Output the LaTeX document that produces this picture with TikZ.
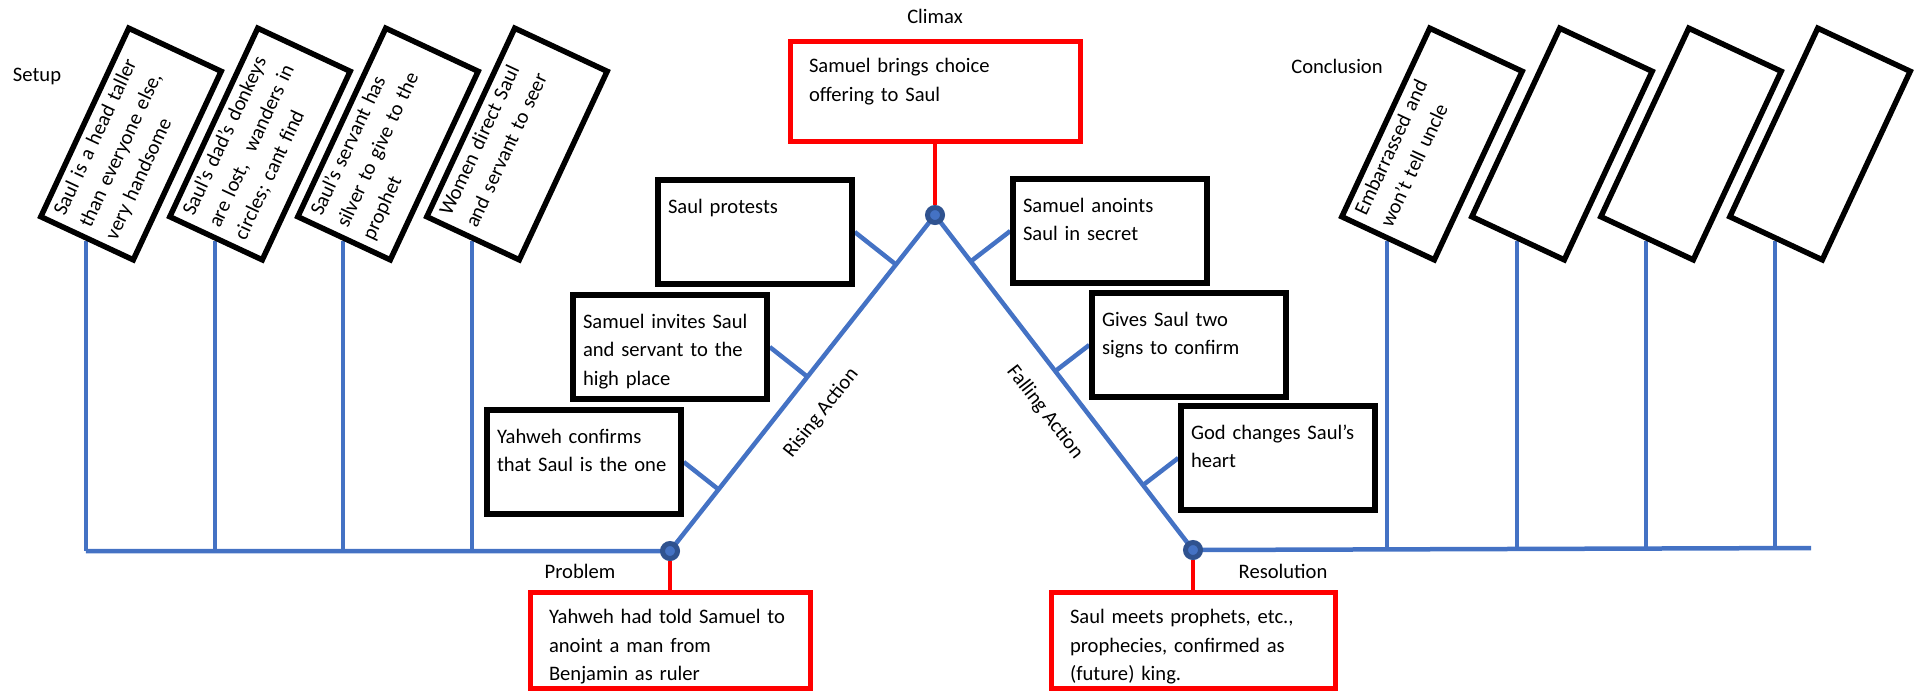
\documentclass[tikz,border=0pt]{standalone}
\usepackage{fontspec}
\setmainfont{Carlito}
\usetikzlibrary{calc, backgrounds, positioning}
\definecolor{spineblue}{HTML}{4472C4}
\definecolor{dotblue}{HTML}{2F528F}
\tikzset{
    spine/.style = {spineblue, line width=2.25pt},
    redline/.style = {red, line width=2.25pt},
    setupnode/.style = {draw, line width=2.75pt, fill=white, rotate=65, align=left, 
      text width=94pt, inner xsep=5pt, inner ysep=3pt, text height=8pt, text depth=37pt},
    fishnode/.style = {draw, line width=2.75pt, fill=white, align=left, 
      text width=87pt, inner xsep=5pt, inner ysep=8.5pt, text height=8pt, text depth=27pt},
    rednode/.style = {draw=red, line width=2.5pt, fill=white, align=left, 
      text width=121pt, inner xsep=9.5pt, inner ysep=7.75pt, text height=8pt, text depth=24.5pt},
    dotnode/.style = {circle, fill=spineblue, draw=dotblue, line width=2.5pt, 
      minimum size=7.5pt, inner sep=0pt},
    textnode/.style = {draw=none, fill=none, inner sep=0pt}
}
\begin{document}
\begin{tikzpicture}[x=0.5pt, y=-0.5pt, font=\fontsize{10.3pt}{14.25pt}\selectfont]
    \useasboundingbox (0,0) rectangle (1925,698);

    % plot points
    \coordinate (prob) at (670,551);
    \coordinate (apex) at (935,215);
    \coordinate (reso) at (1193,550);
    \coordinate (tail) at (1811,548);

    % setup and conclusion
    \node [name = setup, textnode] at (37,76) {Setup};
    \node [name = su1, setupnode] at (131,144) {Saul is a head taller\\than everyone else,\\very handsome};
    \node [name = su2, setupnode] at (260,144) {Saul’s dad’s donkeys\\are lost,~ wanders in\\circles; cant find};
    \node [name = su3, setupnode] at (388,144) {Saul’s servant has\\silver to give to the\\prophet};
    \node [name = su4, setupnode] at (517,144) {Women direct Saul\\and servant to seer};

    \node [name = concl, textnode] at (1337,66) {Conclusion};
    \node [name = cc1, setupnode] at (1432,144) {Embarrassed and\\won’t tell uncle};
    \node [name = cc2, setupnode] at (1562,144) {};
    \node [name = cc3, setupnode] at (1691,144) {};
    \node [name = cc4, setupnode] at (1820,144) {};

    % rising and falling action
    \node [name = protest, fishnode] at (755,232) {Saul protests};
    \node [name = invite, fishnode] at (670,347) {Samuel invites Saul\\and servant to the\\high place};
    \node [name = confirm, fishnode] at (584,462) {Yahweh confirms\\that Saul is the one};
    \node [name = anoint, fishnode] at (1110,231) {Samuel anoints\\Saul in secret};
    \node [name = signs, fishnode] at (1189,345) {Gives Saul two\\signs to confirm};
    \node [name = heart, fishnode] at (1278,458) {God changes Saul’s\\heart};

    % turning points
    \node [name = climaxlbl, textnode] at (935,16) {Climax};
    \node [name = climax, rednode, text width=126pt, text depth=26.5pt] at (935,91) 
        {Samuel brings choice\\offering to Saul};
    \node [name = problbl, textnode] at (580,571) {Problem};
    \node [name = problem, rednode] at (670,640) 
        {Yahweh had told Samuel to\\anoint a man from\\Benjamin as ruler};
    \node [name = resolbl, textnode] at (1283,571) {Resolution};
    \node [name = resolution, rednode, text width=123pt] at (1193,640) 
        {Saul meets prophets, etc.,\\prophecies, confirmed as\\(future) king.};

    \node [name = pdot, dotnode] at (prob) {};
    \node [name = adot, dotnode] at (apex) {};
    \node [name = rdot, dotnode] at (reso) {};

    \path (prob) -- (apex) node [name = rising, textnode, pos=0.472, sloped, below=12pt] {Rising Action};
    \path (apex) -- (reso) node [name = falling, textnode, pos=0.528, sloped, below=12pt] {Falling Action};

    \begin{scope}[on background layer]
        \draw [spine] (su1.west |- prob) -- (prob) -- (apex) -- (reso) -- (tail);
        \draw [spine] (su1.west) -- (su1.west |- prob);
        \draw [spine] (su2.west) -- (su2.west |- prob);
        \draw [spine] (su3.west) -- (su3.west |- prob);
        \draw [spine] (su4.west) -- (su4.west |- prob);
        \draw [spine] (cc1.west) -- (cc1.west |- reso);
        \draw [spine] (cc2.west) -- (cc2.west |- reso);
        \draw [spine] (cc3.west) -- (cc3.west |- reso);
        \draw [spine] (cc4.west) -- (cc4.west |- reso);

        \draw [spine] (protest.east) -- ($(prob)!(protest.east)!(apex)$);
        \draw [spine] (invite.east) -- ($(prob)!(invite.east)!(apex)$);
        \draw [spine] (confirm.east) -- ($(prob)!(confirm.east)!(apex)$);
        \draw [spine] (anoint.west) -- ($(apex)!(anoint.west)!(reso)$);
        \draw [spine] (signs.west) -- ($(apex)!(signs.west)!(reso)$);
        \draw [spine] (heart.west) -- ($(apex)!(heart.west)!(reso)$);

        \draw [redline] (climax) -- (adot);
        \draw [redline] (pdot) -- (problem);
        \draw [redline] (rdot) -- (resolution);
    \end{scope}
\end{tikzpicture}
\end{document}
